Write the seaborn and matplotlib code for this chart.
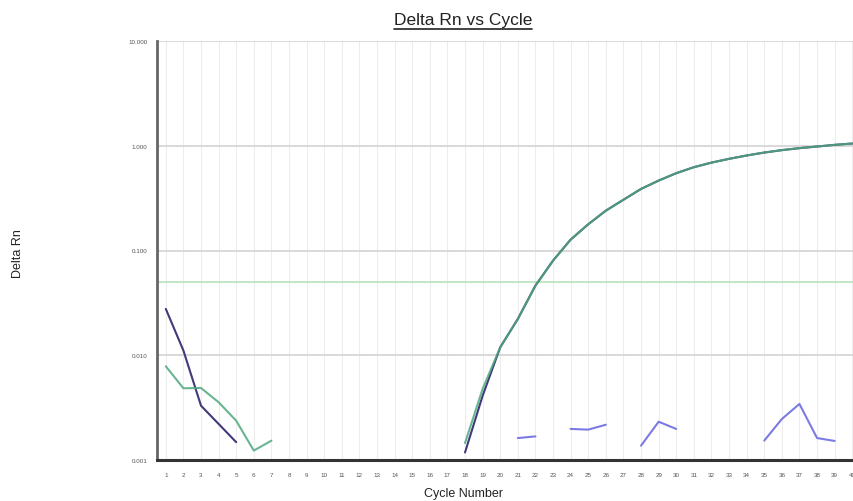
import numpy as np
import pandas as pd
import matplotlib
matplotlib.use("Agg")
import matplotlib.pyplot as plt
import seaborn as sns
from matplotlib.lines import Line2D

sns.set_style("white")
plt.rcParams['font.family'] = ['Liberation Sans', 'DejaVu Sans']

cycles = list(range(1, 41))
nan = np.nan

# Delta Rn values (log scale)
navy_vals = [0.0277, 0.0111, 0.0033, 0.00221, 0.00148, nan, nan, nan, nan, nan,
             nan, nan, nan, nan, nan, nan, nan, 0.00118, 0.0041, 0.0119,
             0.0222, 0.0462, 0.080, 0.127, 0.178, 0.240, 0.305, 0.387, 0.465, 0.547,
             0.624, 0.690, 0.750, 0.807, 0.861, 0.908, 0.949, 0.983, 1.02, 1.05]
green_vals = [0.00785, 0.00484, 0.00487, 0.00356, 0.00237, 0.00123, 0.00153, nan, nan, nan,
              nan, nan, nan, nan, nan, nan, nan, 0.00145, 0.00477, 0.0119,
              0.0222, 0.0462, 0.080, 0.127, 0.178, 0.240, 0.305, 0.387, 0.465, 0.547,
              0.624, 0.690, 0.750, 0.807, 0.861, 0.908, 0.949, 0.983, 1.02, 1.05]
purple_vals = [nan, nan, nan, nan, nan, nan, nan, nan, nan, nan,
               nan, nan, nan, nan, nan, nan, nan, nan, nan, nan,
               0.00162, 0.00168, nan, 0.00198, 0.00195, 0.00217, nan, 0.00137, 0.00232, 0.00198,
               nan, nan, nan, nan, 0.00153, 0.00246, 0.00343, 0.00162, 0.00152, nan]
threshold = 0.05
ytick_vals = [0.001, 0.01, 0.1, 1, 10]
ytick_labels = ["0.001", "0.010", "0.100", "1.000", "10.000"]

series = {"navy": navy_vals, "green": green_vals, "purple": purple_vals}
palette = {"navy": "#3f3b7a", "green": "#4fa87e", "purple": "#7b7be3"}

rows = []
seg_id = 0
for name, vals in series.items():
    prev_nan = True
    for c, v in zip(cycles, vals):
        if np.isnan(v):
            prev_nan = True
            continue
        if prev_nan:
            seg_id += 1
            prev_nan = False
        rows.append({"cycle": c, "value": v, "series": name, "segment": seg_id})
df = pd.DataFrame(rows)

fig = plt.figure(figsize=(8.54, 5.02), dpi=100)
ax = fig.add_axes([157 / 854, 41 / 502, 1 - 157 / 854, (461 - 42) / 502])

ax.set_yscale("log")
ax.set_ylim(0.001, 10)
ax.set_xlim(0.5, 40.1)

# grids
for c in cycles:
    ax.axvline(c, color="#ededed", lw=0.8, zorder=0)
for v in ytick_vals:
    ax.axhline(v, color="#d6d6d6", lw=1.3, zorder=0.5)
ax.axhline(threshold, color="#bfe3c2", lw=1.3, zorder=1)

for name in ["navy", "green", "purple"]:
    sub = df[df["series"] == name]
    sns.lineplot(data=sub, x="cycle", y="value", units="segment", estimator=None,
                 color=palette[name], lw=1.5, ax=ax, legend=False, zorder=3,
                 alpha=0.85 if name == "green" else 1.0)

ax.set_xticks(cycles)
ax.set_xticklabels([str(c) for c in cycles], fontsize=4.5, color="#555555")
ax.set_yticks(ytick_vals)
ax.set_yticklabels(ytick_labels, fontsize=4.5, color="#555555")
ax.minorticks_off()
ax.tick_params(axis="x", length=0, pad=9)
ax.tick_params(axis="y", length=0, pad=7)

for s in ["top", "right"]:
    ax.spines[s].set_visible(False)
ax.spines["left"].set_color("#666666")
ax.spines["left"].set_linewidth(2)
ax.spines["bottom"].set_color("#333333")
ax.spines["bottom"].set_linewidth(2.2)

ax.set_xlabel("")
ax.set_ylabel("")
fig.text(463 / 854, 1 - 494 / 502, "Cycle Number", ha="center", va="center", fontsize=9, color="#222222")
fig.text(18 / 854, 1 - 254 / 502, "Delta Rn", ha="center", va="center", rotation=90, fontsize=9, color="#222222")
title = fig.text(463 / 854, 1 - 21 / 502, "Delta Rn vs Cycle", ha="center", va="center", fontsize=12.5, color="#222222")

fig.canvas.draw()
bb = title.get_window_extent(renderer=fig.canvas.get_renderer())
bb = bb.transformed(fig.transFigure.inverted())
fig.add_artist(Line2D([bb.x0, bb.x1], [bb.y0 - 0.002, bb.y0 - 0.002], color="#222222", lw=1.2,
                      transform=fig.transFigure))

fig.savefig("out.png", dpi=100)
